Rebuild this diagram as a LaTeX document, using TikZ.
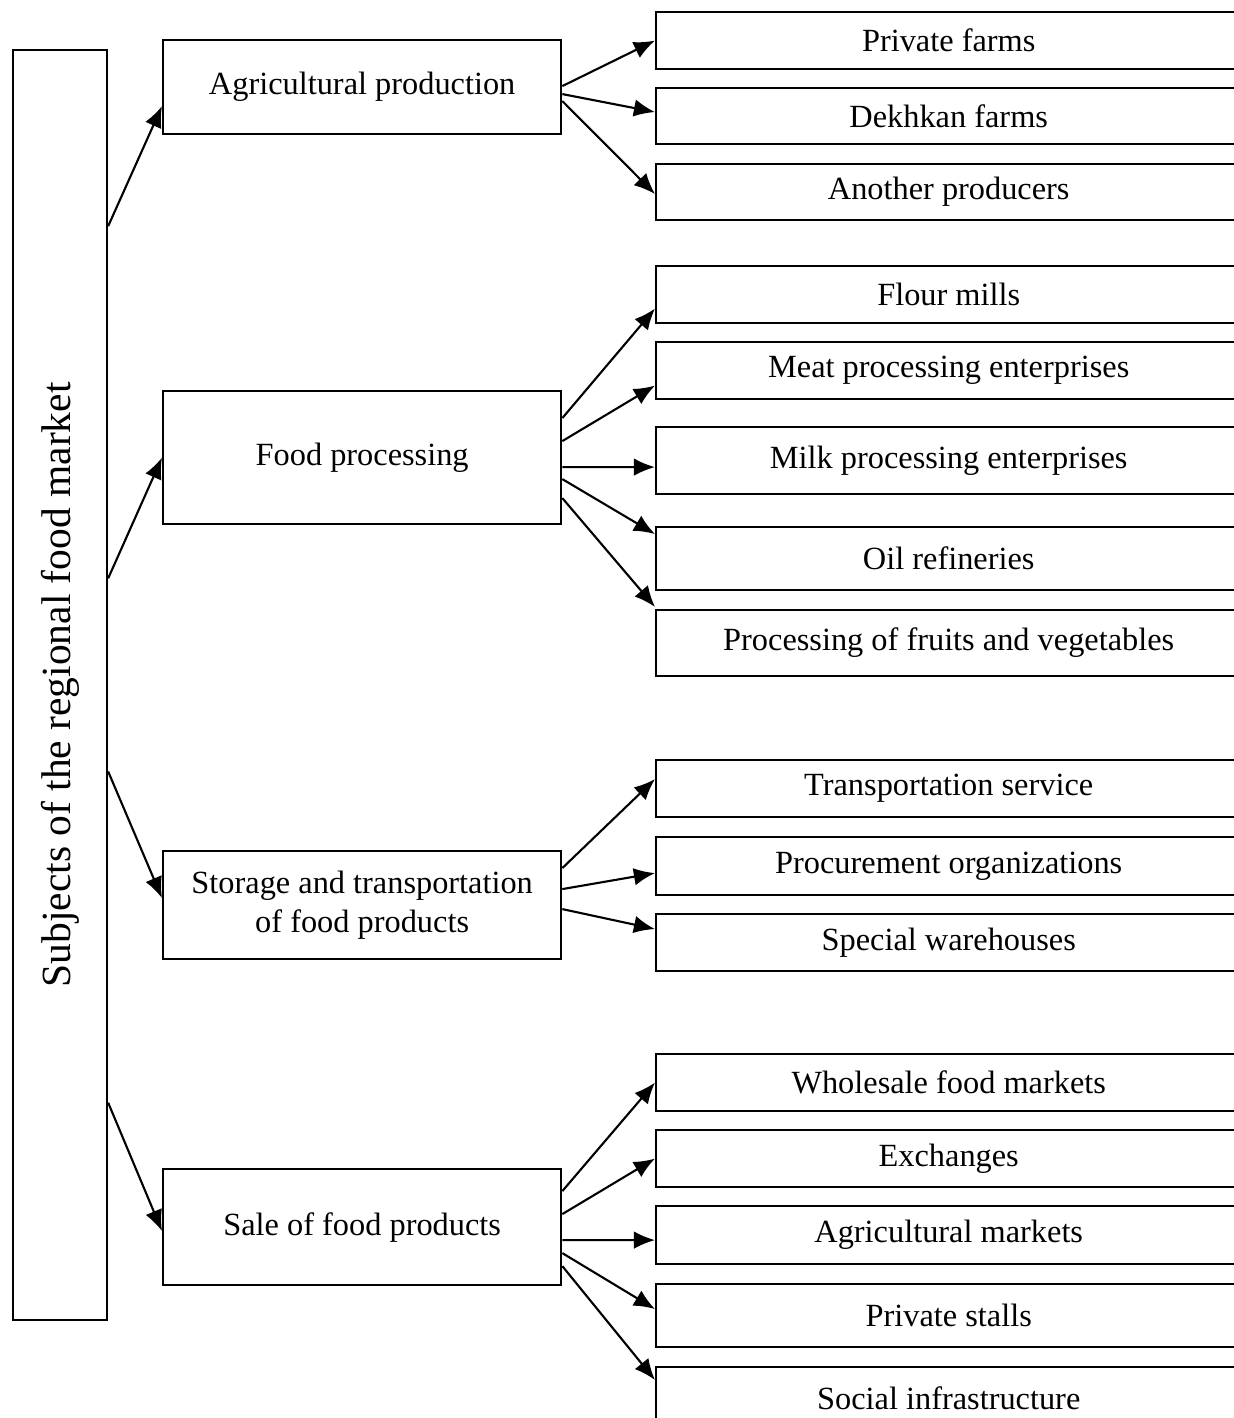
\documentclass[tikz,border=0pt]{standalone}
\usepackage{fontspec}
\setmainfont{Liberation Serif}
\usetikzlibrary{positioning,arrows.meta}

\begin{document}
\begin{tikzpicture}[
  x=0.01cm,y=-0.01cm,
  box/.style={draw,line width=0.6pt,inner sep=0pt,align=center,anchor=north west,
    font=\fontsize{9.2}{11.2}\selectfont},
  midbox/.style={box,minimum width=3.98cm},
  subbox/.style={box,minimum width=5.85cm},
  arr/.style={-{Latex[length=6pt,width=5pt]},line width=0.6pt}
]
\clip (0,0) rectangle (1234,1418);

% left column
\node[box,minimum width=0.94cm,minimum height=12.69cm] (subj) at (12,49) {};
\node[rotate=90,font=\fontsize{11.8}{13}\selectfont] (subjtxt) at (subj.center) {Subjects of the regional food market};

% middle column
\node[midbox,minimum height=0.94cm] (agri) at (162,39) {Agricultural production};
\node[midbox,minimum height=1.33cm] (proc) at (162,390) {Food processing};
\node[midbox,minimum height=1.08cm] (stor) at (162,850) {Storage and transportation\\of food products};
\node[midbox,minimum height=1.16cm] (sale) at (162,1168) {Sale of food products};

% right column
\node[subbox,minimum height=0.57cm] (pfarm) at (655,11) {Private farms};
\node[subbox,minimum height=0.56cm] (dfarm) at (655,87) {Dekhkan farms};
\node[subbox,minimum height=0.56cm] (aprod) at (655,163) {Another producers};

\node[subbox,minimum height=0.57cm] (flour) at (655,265) {Flour mills};
\node[subbox,minimum height=0.57cm] (meat) at (655,341) {Meat processing enterprises};
\node[subbox,minimum height=0.67cm] (milk) at (655,426) {Milk processing enterprises};
\node[subbox,minimum height=0.63cm] (oil) at (655,526) {Oil refineries};
\node[subbox,minimum height=0.66cm] (fruit) at (655,609) {Processing of fruits and vegetables};

\node[subbox,minimum height=0.57cm] (trans) at (655,759) {Transportation service};
\node[subbox,minimum height=0.58cm] (procur) at (655,836) {Procurement organizations};
\node[subbox,minimum height=0.57cm] (wareh) at (655,913) {Special warehouses};

\node[subbox,minimum height=0.57cm] (whole) at (655,1053) {Wholesale food markets};
\node[subbox,minimum height=0.57cm] (exch) at (655,1129) {Exchanges};
\node[subbox,minimum height=0.58cm] (amark) at (655,1205) {Agricultural markets};
\node[subbox,minimum height=0.63cm] (stall) at (655,1283) {Private stalls};
\node[subbox,minimum height=0.62cm] (social) at (655,1366) {Social infrastructure};

\path[arr]
  ([yshift=4.585cm]subj.east) edge ([yshift=-0.19cm]agri.west)
  ([yshift=1.065cm]subj.east) edge (proc.west)
  ([yshift=-0.865cm]subj.east) edge ([yshift=0.07cm]stor.west)
  ([yshift=-4.175cm]subj.east) edge ([yshift=-0.04cm]sale.west)
  ;

\path[arr]
  ([yshift=0.01cm]agri.east) edge (pfarm.west)
  ([yshift=-0.07cm]agri.east) edge ([yshift=0.04cm]dfarm.west)
  ([yshift=-0.14cm]agri.east) edge ([yshift=-0.02cm]aprod.west)
  ([yshift=0.395cm]proc.east) edge ([yshift=-0.14cm]flour.west)
  ([yshift=0.165cm]proc.east) edge ([yshift=-0.15cm]meat.west)
  ([yshift=-0.095cm]proc.east) edge ([yshift=-0.065cm]milk.west)
  ([yshift=-0.215cm]proc.east) edge ([yshift=0.245cm]oil.west)
  ([yshift=-0.405cm]proc.east) edge ([yshift=0.02cm]fruit.north west)
  ([yshift=0.37cm]stor.east) edge ([yshift=0.095cm]trans.west)
  ([yshift=0.16cm]stor.east) edge ([yshift=-0.07cm]procur.west)
  ([yshift=-0.04cm]stor.east) edge ([yshift=0.135cm]wareh.west)
  ([yshift=0.36cm]sale.east) edge (whole.west)
  ([yshift=0.13cm]sale.east) edge (exch.west)
  ([yshift=-0.13cm]sale.east) edge ([yshift=-0.05cm]amark.west)
  ([yshift=-0.26cm]sale.east) edge ([yshift=0.065cm]stall.west)
  ([yshift=-0.39cm]sale.east) edge ([yshift=-0.14cm]social.north west)
  ;

\end{tikzpicture}
\end{document}
